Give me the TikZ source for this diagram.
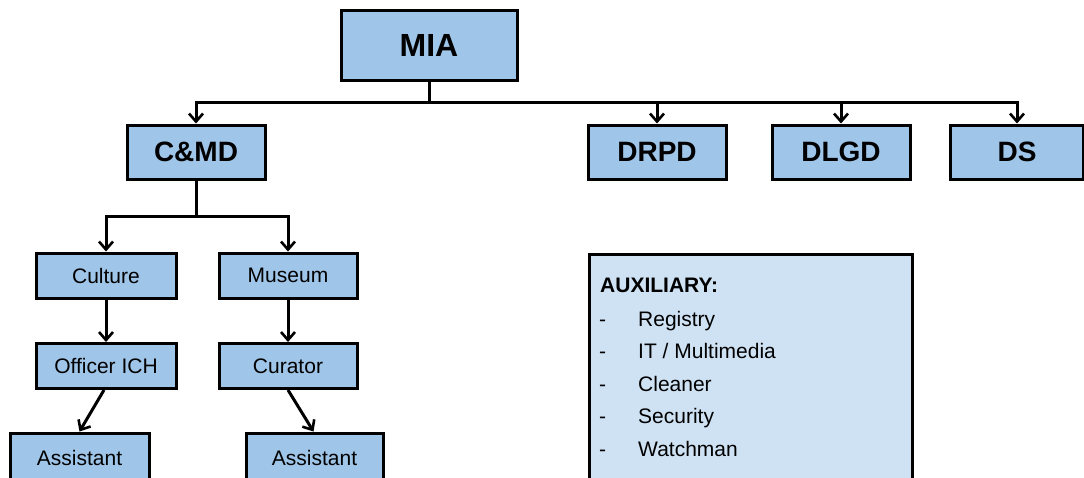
\documentclass[tikz,border=0pt]{standalone}
\usepackage{fontspec}
\setmainfont{Liberation Sans}
\usetikzlibrary{arrows.meta}
\definecolor{boxblue}{HTML}{9FC5E8}
\definecolor{auxblue}{HTML}{CFE2F3}
\begin{document}
\begin{tikzpicture}[x=1pt,y=-1pt,
  unit/.style={draw=black, line width=3pt, fill=boxblue, inner sep=0pt, anchor=center},
  topunit/.style={unit, minimum width=176pt, minimum height=70pt, font=\fontsize{32}{36}\selectfont\bfseries},
  dept/.style={unit, minimum width=138pt, minimum height=54pt, font=\fontsize{28}{32}\selectfont\bfseries},
  post/.style={unit, minimum width=139pt, minimum height=45pt, font=\fontsize{21}{25}\selectfont},
  wire/.style={line width=3pt},
  link/.style={wire, -{Straight Barb[length=8pt,width=14pt,line width=2.6pt]}},
  auxline/.style={anchor=base west, inner sep=0pt, font=\fontsize{21}{25}\selectfont}
]
\useasboundingbox (0,0) rectangle (1084,477);

% top level
\node[topunit] (mia) at (429,45) {MIA};

% departments
\node[dept] (cmd)  at (196,152) {C\&MD};
\node[dept] (drpd) at (657,152) {DRPD};
\node[dept] (dlgd) at (841,152) {DLGD};
\node[dept, minimum width=133pt] (ds) at (1017,152) {DS};

% C&MD sections and staff
\node[post, minimum width=140pt] (culture) at (106,275.5) {Culture};
\node[post, minimum width=138pt] (museum)  at (288,275.5) {Museum};
\node[post, minimum width=140pt] (officer) at (106,366) {Officer ICH};
\node[post, minimum width=138pt] (curator) at (288,366) {Curator};
\node[post, minimum height=50pt] (asstA) at (79.5,458) {Assistant};
\node[post, minimum width=137pt, minimum height=50pt] (asstB) at (314.5,458) {Assistant};

% auxiliary services panel
\node[draw=black, line width=2.5pt, fill=auxblue, inner sep=0pt,
      minimum width=323pt, minimum height=240pt, anchor=north west] (aux) at (588,253) {};
\node[auxline, font=\fontsize{21}{25}\selectfont\bfseries] (auxhead) at (600,292) {AUXILIARY:};
\foreach \name/\txt [count=\i from 0] in {reg/{Registry}, itm/{IT / Multimedia}, cln/{Cleaner}, sec/{Security}, wat/{Watchman}}{
  \node[auxline] (dash-\name) at (599,326+32.5*\i) {-};
  \node[auxline] (item-\name) at (638,326+32.5*\i) {\txt};
}

% connectors from MIA
\coordinate (bus) at (429,102);
\draw[wire] (mia.south) -- (bus);
\draw[link] (bus) -| (cmd.north);
\draw[link] (bus) -| (drpd.north);
\draw[link] (bus) -| (dlgd.north);
\draw[link] (bus) -| (ds.north);

% connectors within C&MD
\coordinate (split) at (196,216);
\draw[wire] (cmd.south) -- (split);
\draw[link] (split) -| (culture.north);
\draw[link] (split) -| (museum.north);
\draw[link] (culture.south) -- (officer.north);
\draw[link] (museum.south) -- (curator.north);
\draw[link] ([xshift=-2pt]officer.south) -- (asstA.north);
\draw[link] (curator.south) -- ([xshift=-1pt]asstB.north);
\end{tikzpicture}
\end{document}
